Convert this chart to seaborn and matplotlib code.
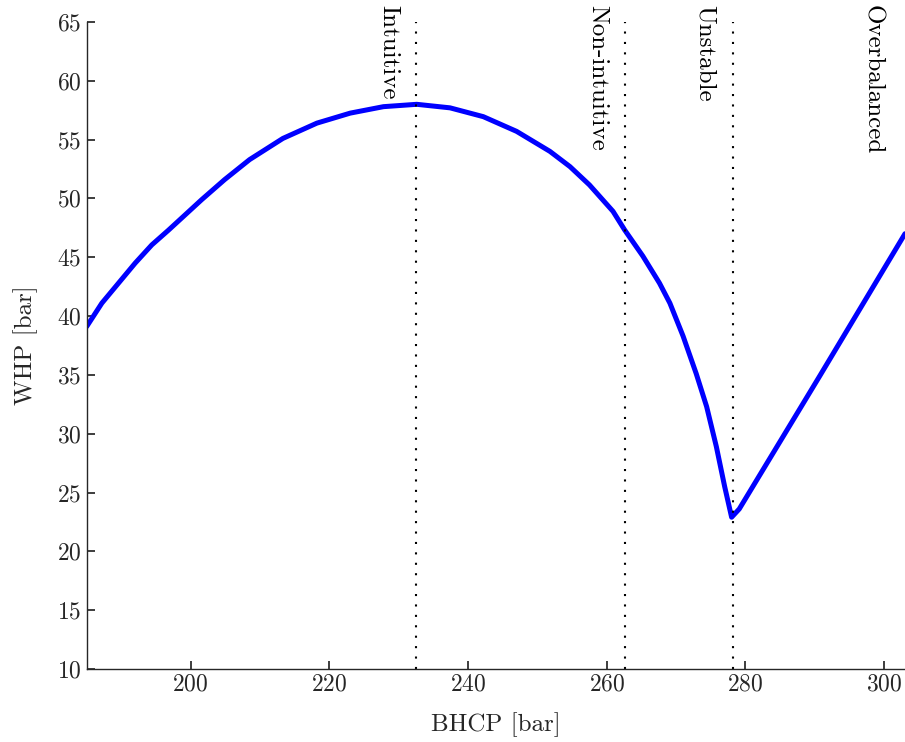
import matplotlib
matplotlib.use("Agg")
import matplotlib.pyplot as plt
import seaborn as sns
import pandas as pd

# Bottom-hole circulating pressure vs. wellhead pressure
bhcp = [185.0, 187.2, 189.6, 192.0, 194.4, 196.8, 199.2, 201.6, 204.9, 208.5,
        213.3, 218.2, 223.0, 227.8, 232.6, 237.4, 242.2, 247.0, 251.8, 254.7,
        257.5, 260.9, 262.6, 265.2, 267.6, 269.1, 271.0, 272.9, 274.4, 275.8,
        277.0, 278.0, 279.1, 290.7, 303.0]
whp = [39.1, 41.1, 42.8, 44.5, 46.05, 47.3, 48.6, 49.9, 51.6, 53.3,
       55.1, 56.4, 57.25, 57.8, 58.0, 57.7, 56.95, 55.7, 54.0, 52.7,
       51.15, 48.9, 47.3, 45.1, 42.8, 41.1, 38.3, 35.1, 32.3, 28.9,
       25.5, 22.9, 23.6, 34.9, 47.0]

# Regime boundaries (BHCP, bar)
boundaries = [232.45, 262.6, 278.2]
regimes = ["Intuitive", "Non-intuitive", "Unstable", "Overbalanced"]

df = pd.DataFrame({"BHCP": bhcp, "WHP": whp})

sns.set_theme(style="ticks")
plt.rcParams.update({
    "font.family": ["cmr10", "DejaVu Serif"],
    "mathtext.fontset": "cm",
    "axes.formatter.use_mathtext": True,
    "axes.unicode_minus": False,
    "font.size": 17,
    "axes.labelsize": 18,
    "xtick.labelsize": 17,
    "ytick.labelsize": 17,
    "axes.edgecolor": "#262626",
    "axes.linewidth": 1.0,
    "xtick.direction": "in",
    "ytick.direction": "in",
    "xtick.major.size": 6,
    "ytick.major.size": 6,
    "xtick.color": "#262626",
    "ytick.color": "#262626",
})

fig = plt.figure(figsize=(9.05, 7.42), dpi=100)
ax = fig.add_axes([0.0957, 0.0984, 0.9043, 0.872])

sns.lineplot(data=df, x="BHCP", y="WHP", ax=ax, color=(0, 0, 1),
             linewidth=3.6, estimator=None, sort=False)

for b in boundaries:
    ax.axvline(b, color="black", linestyle=(0, (1, 4)), linewidth=1.5)

# Regime names sit just left of each boundary, the last one near the right edge
label_x = [b - 4.0 for b in boundaries] + [298.3]
for x, name in zip(label_x, regimes):
    ax.text(x, 66.45, name, rotation=270, ha="center", va="top",
            fontsize=18, clip_on=False, color="black")

ax.set_xlim(185.0, 303.0)
ax.set_ylim(10, 65)
ax.set_xticks([200, 220, 240, 260, 280, 300])
ax.set_yticks(range(10, 66, 5))
ax.set_xlabel("BHCP [bar]", labelpad=12)
ax.set_ylabel("WHP [bar]", labelpad=14)
sns.despine(ax=ax)

fig.savefig("out.png", dpi=100)
